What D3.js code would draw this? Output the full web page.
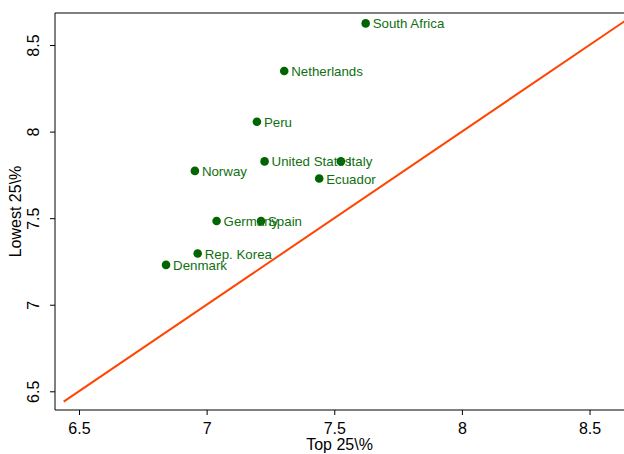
<!DOCTYPE html>
<html>
<head>
<meta charset="utf-8">
<script src="https://cdn.jsdelivr.net/npm/d3@7.9.0/dist/d3.min.js"></script>
<style>
  body { margin: 0; background: #fff; }
  svg { display: block; font-family: "Liberation Sans", Arial, sans-serif; }
</style>
</head>
<body>
<svg id="chart" width="624" height="454"></svg>
<script>
// Data
const countries = ["South Africa", "Netherlands", "Peru", "United States", "Italy",
  "Ecuador", "Norway", "Germany", "Spain", "Rep. Korea", "Denmark"];
const top25 = [7.623, 7.304, 7.197, 7.227, 7.526, 7.441, 6.954, 7.039, 7.213, 6.965, 6.841];
const lowest25 = [8.625, 8.350, 8.057, 7.828, 7.828, 7.729, 7.773, 7.484, 7.483, 7.296, 7.230];
const tickValues = [6.5, 7, 7.5, 8, 8.5];
const diagonal = [6.44, 8.64];

const svg = d3.select("#chart");
const plotLeft = 55, plotRight = 624, plotTop = 13, plotBottom = 410;

// Scales (domain chosen so ticks sit where they do in the picture)
const x = d3.scaleLinear().domain([6.406, 8.635]).range([plotLeft, plotRight]);
const y = d3.scaleLinear().domain([6.392, 8.685]).range([plotBottom, plotTop]);

// Frame: left, top and bottom lines (right side is open)
svg.append("path")
  .attr("d", `M${plotRight},${plotTop}H${plotLeft}V${plotBottom}H${plotRight}`)
  .attr("fill", "none")
  .attr("stroke", "#000")
  .attr("stroke-width", 1);

// x axis
const xAxis = svg.append("g")
  .attr("transform", `translate(0,${plotBottom})`)
  .call(d3.axisBottom(x).tickValues(tickValues).tickSize(5).tickFormat(d3.format("")));
xAxis.select(".domain").remove();
xAxis.selectAll("text")
  .attr("font-size", 16)
  .attr("font-family", "Liberation Sans, Arial, sans-serif")
  .attr("fill", "#000")
  .attr("dy", "1.0em");

// y axis, labels rotated like R
const yAxis = svg.append("g")
  .attr("transform", `translate(${plotLeft},0)`)
  .call(d3.axisLeft(y).tickValues(tickValues).tickSize(5).tickFormat(d3.format("")));
yAxis.select(".domain").remove();
yAxis.selectAll("text")
  .attr("font-size", 16)
  .attr("font-family", "Liberation Sans, Arial, sans-serif")
  .attr("fill", "#000")
  .attr("text-anchor", "middle")
  .attr("x", 0)
  .attr("dy", 0)
  .attr("transform", "translate(-16,0) rotate(-90)");

// axis titles
svg.append("text")
  .attr("x", (plotLeft + plotRight) / 2)
  .attr("y", 450)
  .attr("text-anchor", "middle")
  .attr("font-size", 16)
  .text("Top 25\\%");

svg.append("text")
  .attr("transform", `translate(21,${(plotTop + plotBottom) / 2}) rotate(-90)`)
  .attr("text-anchor", "middle")
  .attr("font-size", 16)
  .text("Lowest 25\\%");

// 45 degree line
svg.append("line")
  .attr("x1", x(diagonal[0])).attr("y1", y(diagonal[0]))
  .attr("x2", x(diagonal[1])).attr("y2", y(diagonal[1]))
  .attr("stroke", "#ff4500")
  .attr("stroke-width", 2);

// points and labels
const pts = countries.map((name, i) => ({ name, tx: top25[i], ly: lowest25[i] }));

svg.append("g").selectAll("circle")
  .data(pts)
  .join("circle")
  .attr("cx", d => x(d.tx))
  .attr("cy", d => y(d.ly))
  .attr("r", 4.3)
  .attr("fill", "#006400");

svg.append("g").selectAll("text")
  .data(pts)
  .join("text")
  .attr("x", d => x(d.tx) + 7)
  .attr("y", d => y(d.ly))
  .attr("dy", "0.38em")
  .attr("font-size", 13.3)
  .attr("fill", "#107010")
  .text(d => d.name);
</script>
</body>
</html>
